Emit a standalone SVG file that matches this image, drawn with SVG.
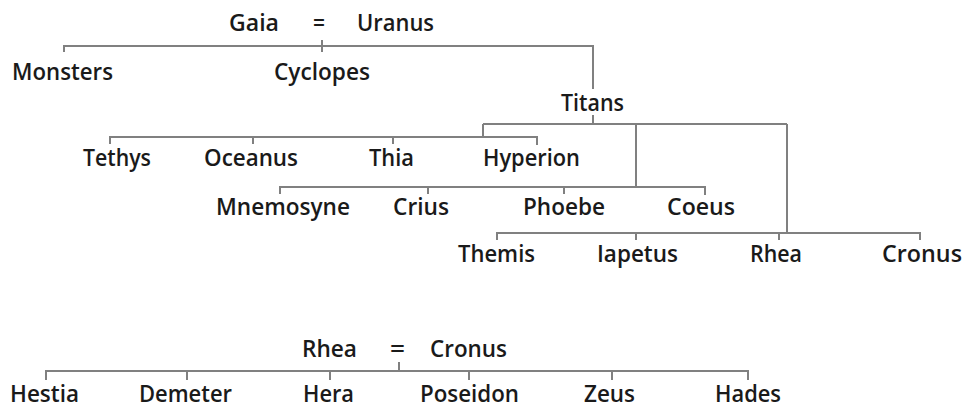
<svg xmlns="http://www.w3.org/2000/svg" width="967" height="414" viewBox="0 0 967 414">
<style>
text{font-family:"Open Sans","Liberation Sans",sans-serif;font-size:22.5px;font-weight:600;fill:#1a1a1a;}
.c path{fill:none;stroke:#808080;stroke-width:2;}
</style>
<rect width="967" height="414" fill="#fff"/>
<g class="c" id="connectors">
<path d="M322,40V46M64,52V46H593V89"/>
<path d="M322,46V52"/>
<path d="M593,115V124M483,124H787M483,124V137M636,124V186M787,124V233"/>
<path d="M110,144V137H537V145M253,137V144M393,137V144"/>
<path d="M280,194V187H705V195M428,187V194M564,187V194"/>
<path d="M497,240V233H920V240M636,233V240M779,233V240"/>
<path d="M399,362V371M46,380V371H748V380M187,371V380M330,371V380M469,371V380M612,371V380"/>
</g>
<g id="gaia"><text x="229" y="31" textLength="50" lengthAdjust="spacingAndGlyphs">Gaia</text></g>
<g id="eq1"><text x="313" y="31" textLength="12" lengthAdjust="spacingAndGlyphs">=</text></g>
<g id="uranus"><text x="357" y="31" textLength="77" lengthAdjust="spacingAndGlyphs">Uranus</text></g>
<g id="monsters"><text x="12" y="80" textLength="101" lengthAdjust="spacingAndGlyphs">Monsters</text></g>
<g id="cyclopes"><text x="274" y="80" textLength="96" lengthAdjust="spacingAndGlyphs">Cyclopes</text></g>
<g id="titans"><text x="561" y="111" textLength="63" lengthAdjust="spacingAndGlyphs">Titans</text></g>
<g id="tethys"><text x="83" y="166" textLength="68" lengthAdjust="spacingAndGlyphs">Tethys</text></g>
<g id="oceanus"><text x="204" y="166" textLength="94" lengthAdjust="spacingAndGlyphs">Oceanus</text></g>
<g id="thia"><text x="369" y="166" textLength="45" lengthAdjust="spacingAndGlyphs">Thia</text></g>
<g id="hyperion"><text x="483" y="166" textLength="97" lengthAdjust="spacingAndGlyphs">Hyperion</text></g>
<g id="mnemosyne"><text x="216" y="215" textLength="134" lengthAdjust="spacingAndGlyphs">Mnemosyne</text></g>
<g id="crius"><text x="393" y="215" textLength="56" lengthAdjust="spacingAndGlyphs">Crius</text></g>
<g id="phoebe"><text x="523" y="215" textLength="82" lengthAdjust="spacingAndGlyphs">Phoebe</text></g>
<g id="coeus"><text x="667" y="215" textLength="68" lengthAdjust="spacingAndGlyphs">Coeus</text></g>
<g id="themis"><text x="458" y="262" textLength="77" lengthAdjust="spacingAndGlyphs">Themis</text></g>
<g id="iapetus"><text x="597" y="262" textLength="81" lengthAdjust="spacingAndGlyphs">Iapetus</text></g>
<g id="rhea1"><text x="750" y="262" textLength="52" lengthAdjust="spacingAndGlyphs">Rhea</text></g>
<g id="cronus1"><text x="882" y="262" textLength="80" lengthAdjust="spacingAndGlyphs">Cronus</text></g>
<g id="rhea2"><text x="302" y="357" textLength="55" lengthAdjust="spacingAndGlyphs">Rhea</text></g>
<g id="eq2"><text x="390" y="357" textLength="15" lengthAdjust="spacingAndGlyphs">=</text></g>
<g id="cronus2"><text x="430" y="357" textLength="77" lengthAdjust="spacingAndGlyphs">Cronus</text></g>
<g id="hestia"><text x="10" y="402" textLength="69" lengthAdjust="spacingAndGlyphs">Hestia</text></g>
<g id="demeter"><text x="139" y="402" textLength="93" lengthAdjust="spacingAndGlyphs">Demeter</text></g>
<g id="hera"><text x="303" y="402" textLength="51" lengthAdjust="spacingAndGlyphs">Hera</text></g>
<g id="poseidon"><text x="420" y="402" textLength="99" lengthAdjust="spacingAndGlyphs">Poseidon</text></g>
<g id="zeus"><text x="584" y="402" textLength="51" lengthAdjust="spacingAndGlyphs">Zeus</text></g>
<g id="hades"><text x="715" y="402" textLength="66" lengthAdjust="spacingAndGlyphs">Hades</text></g>
</svg>
